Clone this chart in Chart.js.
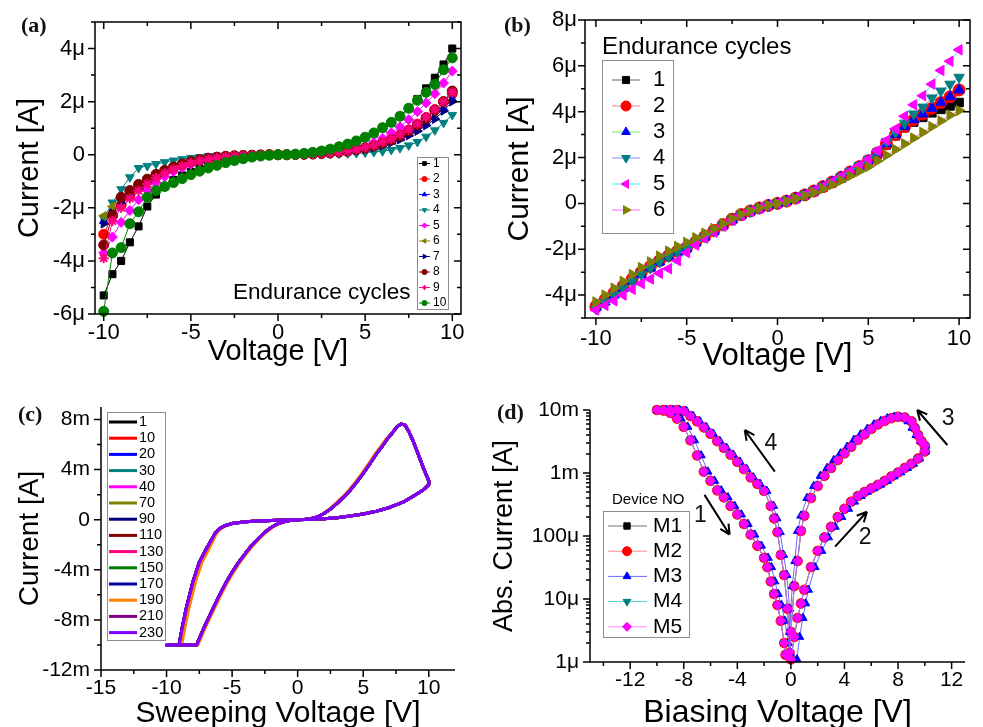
<!DOCTYPE html>
<html>
<head>
<meta charset="utf-8">
<script src="https://cdn.jsdelivr.net/npm/chart.js@4.4.1/dist/chart.umd.min.js"></script>
<style>
  html, body { margin: 0; padding: 0; background: #fff; overflow: hidden; }
  #fig { position: relative; width: 983px; height: 727px; overflow: hidden; background: #fff; }
  #fig canvas { position: absolute; }
  .tag { position: absolute; font: bold 22px "Liberation Serif", "Times New Roman", serif; line-height: 1; color: #111; }
</style>
</head>
<body>
<div id="fig">
  <canvas id="cA" width="490" height="372" style="left:0;top:0"></canvas>
  <canvas id="cB" width="493" height="372" style="left:490px;top:0"></canvas>
  <canvas id="cC" width="490" height="370" style="left:0;top:372px"></canvas>
  <canvas id="cD" width="493" height="370" style="left:490px;top:372px"></canvas>
  <div class="tag" style="left:21px;top:14px">(a)</div>
  <div class="tag" style="left:504px;top:14px">(b)</div>
  <div class="tag" style="left:18px;top:403px">(c)</div>
  <div class="tag" style="left:497px;top:401px">(d)</div>
</div>
<script>
const FONT = '"Liberation Sans", Arial, sans-serif';

// sweep voltages shared by (a) and (b)
const VOLT = [-10,-9.5,-9,-8.5,-8,-7.5,-7,-6.5,-6,-5.5,-5,-4.5,-4,-3.5,-3,-2.5,-2,-1.5,-1,-0.5,0,
  0.5,1,1.5,2,2.5,3,3.5,4,4.5,5,5.5,6,6.5,7,7.5,8,8.5,9,9.5,10];

// (a) endurance cycles, current in uA
const A_LABELS = ['1','2','3','4','5','6','7','8','9','10'];
const A_I1 = [-5.3,-4.5,-4.0,-3.3,-2.7,-1.95,-1.5,-1.2,-0.95,-0.78,-0.65,-0.52,-0.42,-0.33,-0.25,-0.18,-0.12,-0.08,-0.04,-0.02,0,
  0,0.02,0.05,0.09,0.14,0.21,0.3,0.4,0.52,0.65,0.8,1.0,1.2,1.45,1.75,2.1,2.5,2.9,3.4,4.0];
const A_I2 = [-3.0,-2.3,-1.9,-1.55,-1.25,-1.0,-0.8,-0.63,-0.5,-0.38,-0.29,-0.21,-0.15,-0.1,-0.07,-0.05,-0.03,-0.02,-0.01,0,0,
  0,0.01,0.02,0.03,0.05,0.07,0.1,0.14,0.19,0.26,0.34,0.45,0.58,0.74,0.93,1.15,1.4,1.7,2.0,2.3];
const A_I3 = [-2.5,-2.1,-1.75,-1.45,-1.2,-0.97,-0.78,-0.62,-0.48,-0.37,-0.27,-0.2,-0.14,-0.1,-0.07,-0.05,-0.03,-0.02,-0.01,0,0,
  0,0.01,0.02,0.03,0.04,0.06,0.09,0.12,0.16,0.22,0.29,0.38,0.49,0.62,0.78,0.96,1.18,1.42,1.75,2.1];
const A_I4 = [-2.4,-1.8,-1.3,-0.85,-0.5,-0.42,-0.35,-0.28,-0.22,-0.17,-0.12,-0.09,-0.06,-0.04,-0.03,-0.02,-0.01,-0.01,0,0,0,
  0,0.01,0.01,0.02,0.02,0.03,0.04,0.05,0.06,0.08,0.1,0.13,0.18,0.25,0.35,0.48,0.68,0.92,1.2,1.5];
const A_I5 = [-3.7,-3.1,-2.55,-2.1,-1.7,-1.35,-1.05,-0.82,-0.63,-0.48,-0.36,-0.26,-0.18,-0.13,-0.09,-0.06,-0.04,-0.02,-0.01,0,0,
  0,0.01,0.02,0.04,0.06,0.09,0.13,0.18,0.25,0.34,0.46,0.62,0.82,1.05,1.32,1.62,1.95,2.3,2.7,3.15];
const A_I6 = [-2.3,-1.95,-1.65,-1.38,-1.14,-0.93,-0.75,-0.6,-0.47,-0.36,-0.27,-0.2,-0.14,-0.1,-0.07,-0.05,-0.03,-0.02,-0.01,0,0,
  0,0.01,0.02,0.03,0.05,0.07,0.1,0.14,0.19,0.25,0.33,0.43,0.55,0.7,0.88,1.08,1.32,1.6,1.95,2.4];
const A_I7 = [-2.6,-2.2,-1.85,-1.53,-1.26,-1.02,-0.82,-0.65,-0.51,-0.39,-0.29,-0.21,-0.15,-0.1,-0.07,-0.05,-0.03,-0.02,-0.01,0,0,
  0,0.01,0.02,0.03,0.04,0.06,0.08,0.11,0.15,0.2,0.27,0.35,0.45,0.57,0.72,0.89,1.1,1.34,1.65,2.0];
const A_I8 = [-3.4,-2.3,-1.6,-1.35,-1.12,-0.92,-0.74,-0.59,-0.46,-0.35,-0.26,-0.19,-0.13,-0.09,-0.06,-0.04,-0.03,-0.02,-0.01,0,0,
  0,0.01,0.02,0.03,0.05,0.07,0.1,0.14,0.19,0.25,0.33,0.43,0.56,0.72,0.9,1.12,1.38,1.68,2.0,2.4];
const A_I9 = [-3.9,-2.5,-2.0,-1.65,-1.36,-1.1,-0.88,-0.7,-0.55,-0.42,-0.31,-0.23,-0.16,-0.11,-0.08,-0.05,-0.03,-0.02,-0.01,0,0,
  0,0.01,0.02,0.03,0.05,0.07,0.1,0.14,0.2,0.27,0.36,0.47,0.6,0.76,0.95,1.17,1.42,1.7,2.0,2.35];
const A_I10 = [-5.9,-3.7,-3.5,-2.6,-2.15,-1.6,-1.35,-1.2,-1.05,-0.9,-0.75,-0.62,-0.5,-0.4,-0.3,-0.22,-0.15,-0.09,-0.05,-0.02,0,
  0,0.02,0.05,0.09,0.14,0.21,0.3,0.4,0.52,0.66,0.82,1.02,1.22,1.45,1.75,2.05,2.35,2.65,3.2,3.65];
const A_CURRENTS = [A_I1, A_I2, A_I3, A_I4, A_I5, A_I6, A_I7, A_I8, A_I9, A_I10];
const A_X_TICKS = [-10, -5, 0, 5, 10];
const A_Y_TICKS = [-6, -4, -2, 0, 2, 4];
const A_Y_LABELS = ['-6μ', '-4μ', '-2μ', '0', '2μ', '4μ'];

// (b) endurance cycles, current in uA
const B_LABELS = ['1','2','3','4','5','6'];
const B_I1 = [-4.5,-4.25,-3.95,-3.65,-3.35,-3.05,-2.78,-2.52,-2.3,-2.1,-1.95,-1.7,-1.45,-1.2,-0.95,-0.7,-0.5,-0.34,-0.2,-0.09,0,
  0.1,0.22,0.36,0.52,0.7,0.9,1.1,1.32,1.55,1.8,2.15,2.55,2.95,3.3,3.55,3.75,3.95,4.1,4.25,4.4];
const B_I2 = [-4.5,-4.2,-3.9,-3.6,-3.3,-3.0,-2.75,-2.5,-2.28,-2.08,-1.92,-1.68,-1.43,-1.18,-0.93,-0.69,-0.49,-0.33,-0.2,-0.09,0,
  0.1,0.23,0.37,0.54,0.73,0.93,1.14,1.37,1.6,1.86,2.2,2.6,3.0,3.35,3.65,3.9,4.15,4.4,4.65,4.95];
const B_I3 = [-4.55,-4.3,-4.0,-3.7,-3.4,-3.1,-2.82,-2.56,-2.33,-2.12,-1.96,-1.72,-1.47,-1.22,-0.97,-0.72,-0.52,-0.35,-0.21,-0.09,0,
  0.1,0.23,0.37,0.54,0.73,0.93,1.14,1.37,1.6,1.86,2.2,2.6,3.0,3.35,3.65,3.9,4.15,4.4,4.65,4.95];
const B_I4 = [-4.6,-4.3,-4.0,-3.7,-3.4,-3.1,-2.82,-2.56,-2.33,-2.12,-1.95,-1.71,-1.46,-1.21,-0.96,-0.71,-0.51,-0.35,-0.21,-0.09,0,
  0.1,0.23,0.38,0.55,0.74,0.95,1.16,1.4,1.65,1.92,2.25,2.7,3.1,3.5,3.9,4.2,4.6,4.9,5.2,5.5];
const B_I5 = [-4.65,-4.45,-4.25,-4.0,-3.75,-3.5,-3.3,-3.05,-2.85,-2.5,-2.15,-1.82,-1.52,-1.26,-1.0,-0.74,-0.53,-0.36,-0.21,-0.09,0,
  0.1,0.23,0.38,0.55,0.74,0.95,1.17,1.4,1.65,1.92,2.3,2.75,3.25,3.8,4.3,4.7,5.2,5.8,6.2,6.7];
const B_I6 = [-4.3,-4.0,-3.7,-3.4,-3.1,-2.8,-2.55,-2.3,-2.08,-1.88,-1.7,-1.5,-1.3,-1.1,-0.88,-0.66,-0.47,-0.32,-0.19,-0.08,0,
  0.1,0.21,0.34,0.48,0.64,0.82,1.0,1.2,1.4,1.6,1.85,2.1,2.35,2.6,2.85,3.1,3.35,3.6,3.85,4.05];
const B_CURRENTS = [B_I1, B_I2, B_I3, B_I4, B_I5, B_I6];
const B_Y_TICKS = [-4, -2, 0, 2, 4, 6, 8];
const B_Y_LABELS = ['-4μ', '-2μ', '0', '2μ', '4μ', '6μ', '8μ'];

// (c) sweep loops, current in mA
const C_LABELS = ['1','10','20','30','40','70','90','110','130','150','170','190','210','230'];
const C_V = [0,1,2,3,4,5,6,7,8,9,9.6,10,
  10,9.6,9.2,8.8,8.5,8.2,7.9,7.6,7.2,6.8,6.4,6,5.5,5,4.5,4,3.5,3,2.5,2,1.5,1,0.5,0,
  -1,-2,-3,-4,-5,-5.6,-6,-6.3,-7,-7.5,-8,-8.5,-8.8,-9.05,-10,
  -7.7,-7.3,-7,-6.5,-6,-5.5,-5,-4.5,-4,-3.5,-3,-2.5,-2,-1.5,-1,-0.5,0];
const C_V_190 = [0,1,2,3,4,5,6,7,8,9,9.6,10,
  10,9.6,9.2,8.8,8.5,8.2,7.9,7.6,7.2,6.7,6.3,5.9,5.4,4.9,4.4,3.9,3.4,2.9,2.4,2,1.5,1,0.5,0,
  -1,-2,-3,-4,-5,-5.5,-5.9,-6.2,-6.8,-7.3,-7.8,-8.3,-8.6,-8.85,-10,
  -7.6,-7.2,-6.9,-6.4,-5.9,-5.4,-4.9,-4.4,-3.9,-3.4,-2.9,-2.4,-1.9,-1.45,-1,-0.5,0];
const C_I = [0,0.03,0.08,0.15,0.3,0.45,0.68,0.98,1.38,2.0,2.4,2.8,
  3.1,4.1,5.2,6.3,7.0,7.55,7.65,7.45,6.9,6.4,5.8,5.25,4.45,3.7,3.0,2.35,1.8,1.3,0.85,0.5,0.22,0.08,0.02,0,
  -0.03,-0.07,-0.11,-0.17,-0.3,-0.5,-0.75,-1.1,-2.4,-3.4,-5.0,-7.1,-8.6,-10,-10,
  -10,-9.0,-8.3,-7.2,-6.1,-5.1,-4.2,-3.4,-2.7,-2.05,-1.5,-1.0,-0.6,-0.32,-0.15,-0.05,0];
const C_X_TICKS = [-15, -10, -5, 0, 5, 10];
const C_Y_TICKS = [-12, -8, -4, 0, 4, 8];
const C_Y_LABELS = ['-12m', '-8m', '-4m', '0', '4m', '8m'];

// (d) device loops, |I| in A
const D_LABELS = ['M1','M2','M3','M4','M5'];
const D_V = [0,0.25,0.5,0.75,1,1.5,2,2.5,3,3.5,4,4.5,5,5.5,6,6.5,7,7.5,8,8.5,9,9.5,10,
  10,9.75,9.5,9.25,9,8.5,8,7.5,7,6.5,6,5.5,5,4.5,4,3.5,3,2.5,2,1.5,1,0.75,0.5,0.25,0,
  -0.1,-0.25,-0.5,-0.75,-1,-1.25,-1.5,-2,-2.5,-3,-3.5,-4,-4.5,-5,-5.5,-6,-6.5,-7,-7.5,-8,-8.5,-9,-9.5,-10,
  -9.5,-9,-8.5,-8,-7.5,-7,-6.5,-6,-5.5,-5,-4.5,-4,-3.5,-3,-2.5,-2,-1.75,-1.5,-1.25,-1,-0.75,-0.5,-0.4];
const D_V_M3 = [0.45,0.65,0.9,1.1,1.3,1.8,2.3,2.8,3.3,3.8,4.3,4.75,5.25,5.7,6.2,6.7,7.2,7.7,8.2,8.7,9.15,9.6,10.05,
  10.05,9.7,9.35,9.05,8.75,8.2,7.7,7.2,6.7,6.2,5.7,5.2,4.7,4.2,3.7,3.2,2.7,2.2,1.7,1.2,0.75,0.5,0.3,0.1,-0.1,
  -0.05,-0.1,-0.3,-0.55,-0.8,-1.05,-1.3,-1.8,-2.3,-2.8,-3.3,-3.8,-4.3,-4.8,-5.3,-5.8,-6.3,-6.8,-7.3,-7.8,-8.3,-8.8,-9.3,-10,
  -9.3,-8.75,-8.2,-7.7,-7.2,-6.7,-6.2,-5.7,-5.2,-4.7,-4.2,-3.7,-3.2,-2.7,-2.2,-1.7,-1.45,-1.2,-0.95,-0.7,-0.45,-0.2,-0.1];
const D_I = [1.1e-6,2.5e-6,5e-6,8.5e-6,1.4e-5,3.2e-5,5.8e-5,9.5e-5,1.4e-4,2e-4,2.7e-4,3.5e-4,4.3e-4,5e-4,5.7e-4,6.5e-4,7.5e-4,8.8e-4,1.02e-3,1.2e-3,1.4e-3,1.7e-3,2.2e-3,
  2.7e-3,3.2e-3,4e-3,5.2e-3,6.6e-3,7.6e-3,7.8e-3,7.4e-3,6.7e-3,5.9e-3,5e-3,4.1e-3,3.35e-3,2.6e-3,2.05e-3,1.6e-3,1.2e-3,9e-4,6.2e-4,4e-4,2.1e-4,1.2e-4,4e-5,1.6e-5,3e-6,
  1.4e-6,7e-6,2.4e-5,5e-5,1.15e-4,1.9e-4,3e-4,5.2e-4,6.7e-4,8.5e-4,1.15e-3,1.5e-3,1.95e-3,2.5e-3,3.2e-3,4.2e-3,5.3e-3,6.6e-3,8e-3,9.6e-3,1e-2,1e-2,1e-2,1e-2,
  9.8e-3,9e-3,7.3e-3,5.4e-3,3.3e-3,1.9e-3,1.05e-3,7.5e-4,5.3e-4,4.1e-4,3e-4,2.2e-4,1.55e-4,1.05e-4,7e-5,4.5e-5,3.2e-5,1.9e-5,1.2e-5,8e-6,4.5e-6,2e-6,1.3e-6];
const D_X_TICKS = [-12, -8, -4, 0, 4, 8, 12];
const D_Y_TICKS = [1e-6, 1e-5, 1e-4, 1e-3, 1e-2];
const D_Y_LABELS = ['1μ', '10μ', '100μ', '1m', '10m'];
const D_ARROWS = [
  { text: '1', from: [-6.45, 4.5e-4], to: [-4.57, 1.05e-4], at: [-6.75, 2.1e-4] },
  { text: '2', from: [3.3, 6.8e-5], to: [5.68, 2.43e-4], at: [5.55, 9.3e-5] },
  { text: '3', from: [11.68, 2.78e-3], to: [9.43, 1e-2], at: [11.75, 7.4e-3] },
  { text: '4', from: [-1.2, 1.05e-3], to: [-3.45, 4.82e-3], at: [-1.5, 2.96e-3] }
];

// styling
const A_COLORS = ['#000000','#ff0000','#0000ff','#008080','#ff00ff','#808000','#000080','#800000','#ff0080','#008000'];
const A_MARKS = ['rect','circle','triangle','triangle','rectRot','triangle','triangle','circle','star','circle'];
const A_ROTS = [0,0,0,180,0,-90,90,0,0,0];
const B_MARK_COLORS = ['#000000','#ff0000','#0000ff','#008080','#ff00ff','#808000'];
const B_LINE_COLORS = ['rgba(0,0,0,0.6)','rgba(255,0,0,0.5)','rgba(0,230,0,0.6)','rgba(60,60,255,0.6)','rgba(0,230,230,0.7)','rgba(255,0,255,0.6)'];
const B_MARKS = ['rect','circle','triangle','triangle','triangle','triangle'];
const B_ROTS = [0,0,0,180,-90,90];
const C_COLORS = ['#000000','#ff0000','#0000ff','#008080','#ff00ff','#808000','#000080','#800000','#ff0080','#008000','#0000a0','#ff8000','#800080','#8000ff'];
const D_MARK_COLORS = ['#000000','#ff0000','#0000ff','#008080','#ff00ff'];
const D_LINE_COLORS = ['rgba(0,0,0,0.55)','rgba(255,60,60,0.6)','rgba(40,40,255,0.7)','rgba(0,190,190,0.7)','rgba(255,90,255,0.7)'];
const D_MARKS = ['rect','circle','triangle','triangle','rectRot'];
const D_ROTS = [0,0,0,180,0];

function points(xs, ys) {
  return xs.map((v, i) => ({ x: v, y: ys[i] }));
}

function drawMark(ctx, opts, x, y) {
  if (Chart.helpers && Chart.helpers.drawPoint) {
    Chart.helpers.drawPoint(ctx, opts, x, y);
  } else {
    ctx.beginPath();
    ctx.arc(x, y, opts.radius, 0, Math.PI * 2);
    ctx.fill();
  }
}

function axis(o) {
  return {
    type: o.type || 'linear',
    bounds: 'data',
    min: o.min,
    max: o.max,
    grid: { display: false, drawTicks: false },
    border: { display: false },
    afterBuildTicks: s => { s.ticks = o.ticks.map(v => ({ value: v })); },
    afterFit: s => { if (s.isHorizontal()) s.height = o.size; else s.width = o.size; },
    ticks: {
      autoSkip: false, maxRotation: 0, minRotation: 0, padding: o.pad, color: '#000',
      font: { family: FONT, size: o.font, lineHeight: 1 },
      callback: (v, i) => o.labels ? o.labels[i] : String(v)
    },
    title: {
      display: true, text: o.title, color: '#000',
      font: { family: FONT, size: o.tfont, lineHeight: 1 },
      padding: o.tpad
    }
  };
}

// axis lines plus outward (and inward on boxed panels) tick marks
function frame(cfg) {
  return {
    id: 'frame',
    afterDatasetsDraw(chart) {
      const { ctx, chartArea: a } = chart;
      const xs = chart.scales.x, ys = chart.scales.y;
      ctx.save();
      ctx.strokeStyle = '#000';
      ctx.lineWidth = 1.5;
      ctx.beginPath();
      if (cfg.box) {
        ctx.rect(a.left, a.top, a.right - a.left, a.bottom - a.top);
      } else {
        ctx.moveTo(a.left, a.top);
        ctx.lineTo(a.left, a.bottom);
        ctx.lineTo(a.right, a.bottom);
      }
      ctx.stroke();
      ctx.beginPath();
      const tx = (vals, len) => vals.forEach(v => {
        const p = xs.getPixelForValue(v);
        ctx.moveTo(p, a.bottom); ctx.lineTo(p, a.bottom + len);
        if (cfg.box) { ctx.moveTo(p, a.top); ctx.lineTo(p, a.top + len); }
      });
      const ty = (vals, len) => vals.forEach(v => {
        const p = ys.getPixelForValue(v);
        ctx.moveTo(a.left - len, p); ctx.lineTo(a.left, p);
        if (cfg.box) { ctx.moveTo(a.right, p); ctx.lineTo(a.right - len, p); }
      });
      tx(cfg.xMajor, 7); tx(cfg.xMinor, 4);
      ty(cfg.yMajor, 7); ty(cfg.yMinor, 4);
      ctx.stroke();
      ctx.restore();
    }
  };
}

function boxLegend(cfg) {
  return {
    id: 'boxLegend',
    afterDraw(chart) {
      const ctx = chart.ctx;
      ctx.save();
      ctx.textAlign = 'left';
      ctx.textBaseline = 'middle';
      if (cfg.title) {
        ctx.fillStyle = '#000';
        ctx.font = cfg.title.size + 'px ' + FONT;
        ctx.fillText(cfg.title.text, cfg.title.x, cfg.title.y);
      }
      const [bx, by, bw, bh] = cfg.box;
      ctx.fillStyle = '#fff';
      ctx.fillRect(bx, by, bw, bh);
      ctx.strokeStyle = '#8c8c8c';
      ctx.lineWidth = 1;
      ctx.strokeRect(bx + 0.5, by + 0.5, bw, bh);
      chart.data.datasets.forEach((ds, i) => {
        const y = cfg.y0 + i * cfg.gap;
        ctx.strokeStyle = ds.borderColor;
        ctx.lineWidth = cfg.lineWidth;
        ctx.beginPath();
        ctx.moveTo(cfg.line[0], y);
        ctx.lineTo(cfg.line[1], y);
        ctx.stroke();
        if (cfg.markR) {
          ctx.fillStyle = ds.pointBackgroundColor;
          ctx.strokeStyle = ds.pointBorderColor;
          ctx.lineWidth = 1;
          drawMark(ctx, { pointStyle: ds.pointStyle, rotation: ds.pointRotation || 0, radius: cfg.markR, borderWidth: 1 }, cfg.markX, y);
        }
        ctx.fillStyle = '#000';
        ctx.font = cfg.size + 'px ' + FONT;
        ctx.fillText(ds.label, cfg.textX, y);
      });
      ctx.restore();
    }
  };
}

function arrows(list) {
  return {
    id: 'arrows',
    afterDraw(chart) {
      const { ctx } = chart;
      const xs = chart.scales.x, ys = chart.scales.y;
      ctx.save();
      ctx.strokeStyle = '#000';
      ctx.fillStyle = '#111';
      ctx.lineWidth = 2;
      ctx.font = '23px ' + FONT;
      ctx.textAlign = 'center';
      ctx.textBaseline = 'middle';
      list.forEach(a => {
        const x0 = xs.getPixelForValue(a.from[0]), y0 = ys.getPixelForValue(a.from[1]);
        const x1 = xs.getPixelForValue(a.to[0]), y1 = ys.getPixelForValue(a.to[1]);
        const ang = Math.atan2(y1 - y0, x1 - x0);
        ctx.beginPath();
        ctx.moveTo(x0, y0);
        ctx.lineTo(x1, y1);
        [-1, 1].forEach(s => {
          ctx.moveTo(x1, y1);
          ctx.lineTo(x1 - 11 * Math.cos(ang + s * 0.45), y1 - 11 * Math.sin(ang + s * 0.45));
        });
        ctx.stroke();
        ctx.fillText(a.text, xs.getPixelForValue(a.at[0]), ys.getPixelForValue(a.at[1]));
      });
      ctx.restore();
    }
  };
}

function figure(id, pad, scales, datasets, plugins) {
  return new Chart(document.getElementById(id), {
    type: 'scatter',
    data: { datasets },
    options: {
      responsive: false,
      animation: false,
      devicePixelRatio: 1,
      events: [],
      layout: { padding: pad },
      plugins: { legend: { display: false }, tooltip: { enabled: false } },
      scales
    },
    plugins
  });
}

// (a)
figure('cA', { left: 0, top: 22, right: 29, bottom: 0 }, {
  x: axis({ min: -10.5, max: 10.5, ticks: A_X_TICKS, size: 58, pad: 8, font: 22,
    title: 'Voltage [V]', tfont: 29, tpad: { top: 0, bottom: 5.5 } }),
  y: axis({ min: -6, max: 5, ticks: A_Y_TICKS, labels: A_Y_LABELS, size: 95, pad: 10, font: 22,
    title: 'Current [A]', tfont: 29, tpad: { top: 15.5, bottom: 0 } })
}, A_CURRENTS.map((cur, i) => ({
  label: A_LABELS[i], data: points(VOLT, cur), showLine: true,
  borderColor: A_COLORS[i], borderWidth: 1,
  pointStyle: A_MARKS[i], pointRotation: A_ROTS[i], pointRadius: 5,
  pointBackgroundColor: A_COLORS[i], pointBorderColor: A_COLORS[i],
  pointBorderWidth: A_MARKS[i] === 'star' ? 2 : 1,
  clip: false, order: -i
})), [
  frame({ box: true, xMajor: A_X_TICKS, xMinor: [-7.5, -2.5, 2.5, 7.5],
    yMajor: A_Y_TICKS, yMinor: [-5, -3, -1, 1, 3, 5] }),
  boxLegend({ box: [417, 157, 31, 152], y0: 163.5, gap: 15.5, line: [419, 430], lineWidth: 1,
    markX: 424.5, markR: 2.6, textX: 433, size: 12,
    title: { text: 'Endurance cycles', x: 233, y: 293, size: 22.5 } })
]);

// (b)
figure('cB', { left: 0, top: 20, right: 13, bottom: 0 }, {
  x: axis({ min: -10.6, max: 10.6, ticks: A_X_TICKS, size: 54, pad: 10, font: 22,
    title: 'Voltage [V]', tfont: 31, tpad: { top: 0, bottom: 0.5 } }),
  y: axis({ min: -5, max: 8, ticks: B_Y_TICKS, labels: B_Y_LABELS, size: 95, pad: 8, font: 22,
    title: 'Current [A]', tfont: 30, tpad: { top: 15, bottom: 0 } })
}, B_CURRENTS.map((cur, i) => ({
  label: B_LABELS[i], data: points(VOLT, cur), showLine: true,
  borderColor: B_LINE_COLORS[i], borderWidth: 1,
  pointStyle: B_MARKS[i], pointRotation: B_ROTS[i], pointRadius: 6,
  pointBackgroundColor: B_MARK_COLORS[i], pointBorderColor: B_MARK_COLORS[i], pointBorderWidth: 1,
  clip: false, order: -i
})), [
  frame({ box: true, xMajor: A_X_TICKS, xMinor: [-7.5, -2.5, 2.5, 7.5],
    yMajor: B_Y_TICKS, yMinor: [-5, -3, -1, 1, 3, 5, 7] }),
  boxLegend({ box: [112, 60, 71, 173], y0: 80, gap: 26, line: [122, 150], lineWidth: 1,
    markX: 136, markR: 5, textX: 163, size: 22,
    title: { text: 'Endurance cycles', x: 112, y: 47, size: 24 } })
]);

// (c)
figure('cC', { left: 0, top: 35, right: 35, bottom: 0 }, {
  x: axis({ min: -15, max: 12, ticks: C_X_TICKS, size: 72, pad: 7.5, font: 21,
    title: 'Sweeping Voltage [V]', tfont: 30, tpad: { top: 0, bottom: 13 } }),
  y: axis({ min: -12, max: 9, ticks: C_Y_TICKS, labels: C_Y_LABELS, size: 101, pad: 11, font: 21,
    title: 'Current [A]', tfont: 28, tpad: { top: 16, bottom: 0 } })
}, C_LABELS.map((lab, i) => ({
  label: lab, data: points(lab === '190' ? C_V_190 : C_V, C_I), showLine: true,
  borderColor: C_COLORS[i], borderWidth: 3, borderJoinStyle: 'round',
  pointRadius: 0, clip: false, order: -i
})), [
  frame({ box: false, xMajor: C_X_TICKS, xMinor: [-12.5, -7.5, -2.5, 2.5, 7.5],
    yMajor: C_Y_TICKS, yMinor: [-10, -6, -2, 2, 6] }),
  boxLegend({ box: [107, 40, 58, 228], y0: 50, gap: 16.2, line: [109, 137], lineWidth: 3,
    textX: 139, size: 14.5 })
]);

// (d)
const D_VOLTS = [D_V, D_V, D_V_M3, D_V, D_V];
const D_Y_MINOR = [];
D_Y_TICKS.slice(0, -1).forEach(d => [2, 3, 4, 5, 6, 7, 8, 9].forEach(m => D_Y_MINOR.push(d * m)));
figure('cD', { left: 0, top: 38, right: 18, bottom: 0 }, {
  x: axis({ min: -15, max: 13, ticks: D_X_TICKS, size: 80, pad: 7.5, font: 21,
    title: 'Biasing Voltage [V]', tfont: 32, tpad: { top: 0, bottom: 13 } }),
  y: axis({ type: 'logarithmic', min: 1e-6, max: 1e-2, ticks: D_Y_TICKS, labels: D_Y_LABELS, size: 100, pad: 11, font: 21,
    title: 'Abs. Current [A]', tfont: 27, tpad: { top: 1.5, bottom: 0 } })
}, D_LABELS.map((lab, i) => ({
  label: lab, data: points(D_VOLTS[i], D_I), showLine: true,
  borderColor: D_LINE_COLORS[i], borderWidth: 1,
  pointStyle: D_MARKS[i], pointRotation: D_ROTS[i], pointRadius: 4.8,
  pointBackgroundColor: D_MARK_COLORS[i], pointBorderColor: D_MARK_COLORS[i], pointBorderWidth: 1,
  clip: false, order: -i
})), [
  frame({ box: false, xMajor: D_X_TICKS, xMinor: [-14, -10, -6, -2, 2, 6, 10],
    yMajor: D_Y_TICKS, yMinor: D_Y_MINOR }),
  boxLegend({ box: [113, 139, 86, 126], y0: 154, gap: 25.2, line: [118, 157], lineWidth: 1,
    markX: 137, markR: 4.5, textX: 163, size: 21,
    title: { text: 'Device NO', x: 122, y: 128, size: 15 } }),
  arrows(D_ARROWS)
]);
</script>
</body>
</html>
